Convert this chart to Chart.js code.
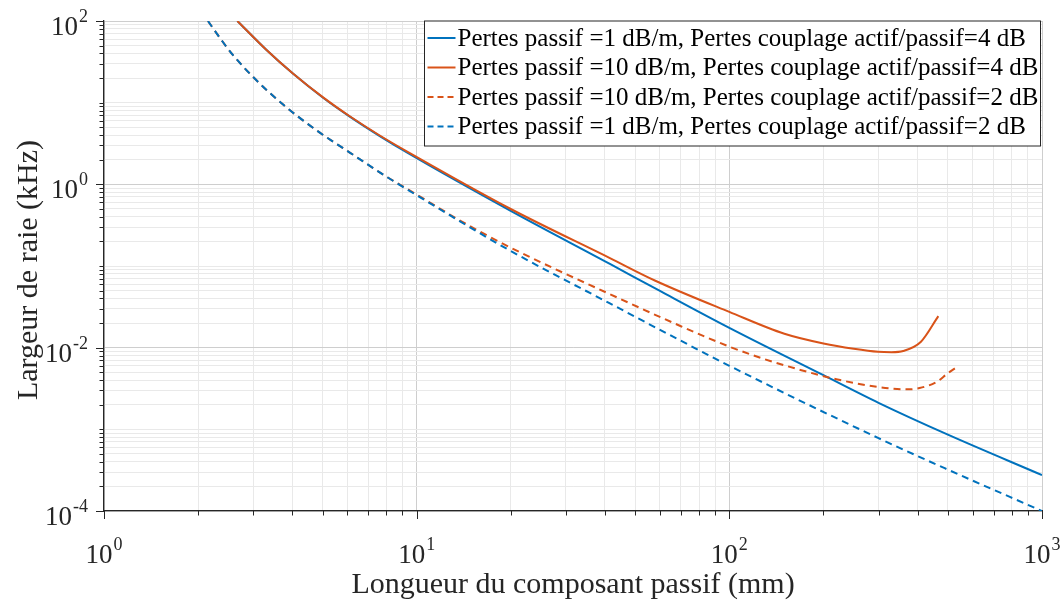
<!DOCTYPE html>
<html>
<head>
<meta charset="utf-8">
<script src="https://cdn.jsdelivr.net/npm/chart.js@4.4.1/dist/chart.umd.min.js"></script>
<style>
html,body{margin:0;padding:0;background:#fff}
#wrap{width:1064px;height:603px}
</style>
</head>
<body>
<div id="wrap"><canvas id="c" width="1064" height="603"></canvas></div>
<script>
// ---- data ----
const SERIES_LABELS=[
  "Pertes passif =1 dB/m, Pertes couplage actif/passif=4 dB",
  "Pertes passif =10 dB/m, Pertes couplage actif/passif=4 dB",
  "Pertes passif =10 dB/m, Pertes couplage actif/passif=2 dB",
  "Pertes passif =1 dB/m, Pertes couplage actif/passif=2 dB"
];
// longueur (mm) / largeur de raie (kHz)
const lenP1C4=[2.67,3.31,4.02,5.02,6.11,7.62,9.51,19.85,41.5,60,100,200,300,500,1000];
const lwP1C4 =[100,44.2,22.7,11.5,6.75,3.9,2.34,0.48,0.106,0.0495,0.0175,0.0046,0.00211,0.00086,0.000275];

const lenP10C4=[2.67,3.31,4.02,5.02,6.11,7.62,9.51,19.85,41.5,58,100,150,200,250,299,330,360,410,466];
const lwP10C4 =[100,44.2,22.8,11.6,6.81,3.96,2.41,0.506,0.125,0.066,0.0274,0.0148,0.01125,0.0097,0.0089,0.0088,0.0091,0.0118,0.0243];

const lenP10C2=[2.15,2.40,2.59,3.00,3.74,4.78,6.11,8.01,10,14,19.85,41.5,70,100,130,170,220,299,373,406,460,501,531];
const lwP10C2 =[100,55.3,38.0,20.6,9.48,4.59,2.45,1.24,0.75,0.347,0.17,0.0452,0.0183,0.0103,0.0072,0.0053,0.0041,0.0033,0.00309,0.0032,0.0038,0.0049,0.0057];

const lenP1C2=[2.15,2.40,2.59,3.00,3.74,4.78,6.11,8.01,10,19.85,41.5,69.4,100,300,501,1000];
const lwP1C2 =[100,55.3,38.0,20.6,9.48,4.59,2.45,1.24,0.736,0.155,0.0348,0.01236,0.006,0.00078,0.00032,0.0001];

const X_TICK_EXP=[0,1,2,3];
const Y_TICK_EXP=[-4,-2,0,2];
const MINOR_MULT=[1,2,3,4,5,6,7,8,9];

const BLUE="#0072BD", ORANGE="#D95319";
const SERIF="'Liberation Serif','Times New Roman',serif";

function logTicks(exps){
  const out=[];
  for(let e=exps[0];e<exps[exps.length-1];e++) MINOR_MULT.forEach(m=>out.push(m*Math.pow(10,e)));
  out.push(Math.pow(10,exps[exps.length-1]));
  return out;
}
function isPow(v,exps){ const l=Math.log10(v); return exps.some(e=>Math.abs(l-e)<1e-9); }
const pts=(xs,ys)=>xs.map((x,i)=>({x,y:ys[i]}));

const series=[
  {data:pts(lenP1C4,lwP1C4),  color:BLUE,   dash:[]},
  {data:pts(lenP10C4,lwP10C4),color:ORANGE, dash:[]},
  {data:pts(lenP10C2,lwP10C2),color:ORANGE, dash:[7,5]},
  {data:pts(lenP1C2,lwP1C2),  color:BLUE,   dash:[7,5]}
];

const MAJOR_GRID="#cecece", MINOR_GRID="#e9e9e9", AXIS="#262626";

function powLabel(ctx,e,x,y,align){
  const base="27px "+SERIF, sup="18px "+SERIF;
  ctx.font=base; const w1=ctx.measureText("10").width;
  ctx.font=sup;  const w2=ctx.measureText(String(e)).width;
  const tot=w1+w2+1;
  const left=align==="right"?x-tot:x-tot/2;
  ctx.font=base; ctx.fillText("10",left,y);
  ctx.font=sup;  ctx.fillText(String(e),left+w1+1,y-13);
}

const deco={
  id:"deco",
  afterDraw(chart){
    const {ctx,chartArea:a,scales:{x,y}}=chart;
    ctx.save();
    // tick marks (outside)
    ctx.strokeStyle=AXIS; ctx.lineWidth=1;
    ctx.beginPath();
    x.ticks.forEach(t=>{
      const px=Math.round(x.getPixelForValue(t.value))+0.5;
      const L=isPow(t.value,X_TICK_EXP)?8:4.5;
      ctx.moveTo(px,a.bottom); ctx.lineTo(px,a.bottom+L);
    });
    y.ticks.forEach(t=>{
      const py=Math.round(y.getPixelForValue(t.value))+0.5;
      const L=isPow(t.value,Y_TICK_EXP)?8:4.5;
      ctx.moveTo(a.left,py); ctx.lineTo(a.left-L,py);
    });
    ctx.stroke();
    // tick labels
    ctx.fillStyle=AXIS; ctx.textBaseline="alphabetic"; ctx.textAlign="left";
    X_TICK_EXP.forEach(e=>powLabel(ctx,e,x.getPixelForValue(Math.pow(10,e)),a.bottom+52,"center"));
    Y_TICK_EXP.forEach(e=>powLabel(ctx,e,a.left-16,y.getPixelForValue(Math.pow(10,e))+14,"right"));
    // axis titles
    ctx.font="30px "+SERIF; ctx.textAlign="center";
    ctx.fillText("Longueur du composant passif (mm)",(a.left+a.right)/2,593);
    ctx.save(); ctx.translate(37,(a.top+a.bottom)/2+4); ctx.rotate(-Math.PI/2);
    ctx.fillText("Largeur de raie (kHz)",0,0); ctx.restore();
    // legend
    const bx=424.5, by=a.top, bw=616, bh=125;
    ctx.fillStyle="#fff"; ctx.fillRect(bx,by,bw,bh);
    ctx.strokeStyle=AXIS; ctx.lineWidth=1; ctx.strokeRect(bx,by,bw,bh);
    ctx.font="25px "+SERIF; ctx.textAlign="left"; ctx.textBaseline="middle";
    series.forEach((s,i)=>{
      const ry=by+17+i*29.5;
      ctx.strokeStyle=s.color; ctx.lineWidth=2; ctx.setLineDash(s.dash.length?[6,4]:[]);
      ctx.beginPath(); ctx.moveTo(bx+3,ry); ctx.lineTo(bx+31,ry); ctx.stroke();
      ctx.setLineDash([]);
      ctx.fillStyle="#000"; ctx.fillText(SERIES_LABELS[i],bx+33,ry+1);
    });
    ctx.restore();
  }
};

new Chart(document.getElementById("c").getContext("2d"),{
  type:"line",
  data:{datasets:series.map((s,i)=>({
    label:SERIES_LABELS[i], data:s.data, borderColor:s.color, borderWidth:2,
    borderDash:s.dash, pointRadius:0, fill:false, cubicInterpolationMode:"monotone",
    order:series.length-i
  }))},
  options:{
    animation:false, responsive:false, maintainAspectRatio:false, events:[],
    layout:{padding:{top:21,right:22,left:0,bottom:0}},
    plugins:{legend:{display:false},tooltip:{enabled:false}},
    scales:{
      x:{type:"logarithmic",min:1,max:1000,
        afterBuildTicks:s=>{s.ticks=logTicks(X_TICK_EXP).map(v=>({value:v}));},
        afterFit:s=>{s.height=92;},
        ticks:{display:false},
        grid:{drawTicks:false,lineWidth:1,color:c=>isPow(c.tick.value,X_TICK_EXP)?MAJOR_GRID:MINOR_GRID},
        border:{display:true,color:AXIS,width:1.3}},
      y:{type:"logarithmic",min:1e-4,max:100,
        afterBuildTicks:s=>{s.ticks=logTicks(Y_TICK_EXP).map(v=>({value:v}));},
        afterFit:s=>{s.width=104;},
        ticks:{display:false},
        grid:{drawTicks:false,lineWidth:1,color:c=>isPow(c.tick.value,Y_TICK_EXP)?MAJOR_GRID:MINOR_GRID},
        border:{display:true,color:AXIS,width:1.3}}
    }
  },
  plugins:[deco]
});
</script>
</body>
</html>
